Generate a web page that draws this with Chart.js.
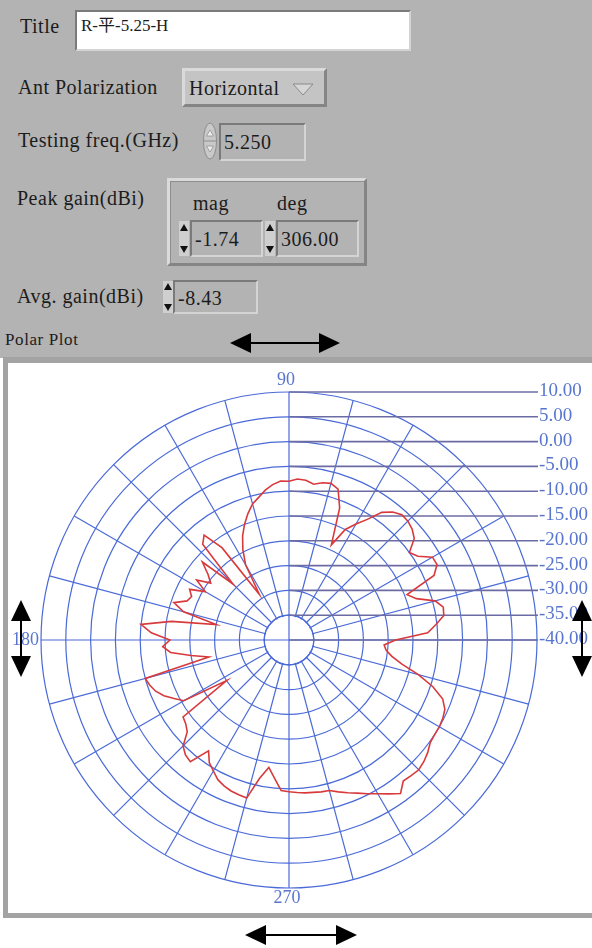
<!DOCTYPE html>
<html>
<head>
<meta charset="utf-8">
<script src="https://cdn.jsdelivr.net/npm/chart.js@4.4.1/dist/chart.umd.min.js"></script>
<style>
  html, body { margin: 0; padding: 0; background: #fff; }
  body { width: 592px; height: 948px; position: relative; overflow: hidden;
         font-family: "Liberation Serif", "Noto Sans CJK SC", serif; color: #1c1c1c; }
  .panel { position: absolute; left: 0; top: 0; width: 592px; height: 358px; background: #b3b3b3; }
  .lbl { position: absolute; font-size: 20px; line-height: 20px; letter-spacing: 0.5px; white-space: nowrap; }
  .inset { position: absolute; box-sizing: border-box;
           border-top: 2px solid #7a7a7a; border-left: 2px solid #7a7a7a;
           border-bottom: 2px solid #d4d4d4; border-right: 2px solid #d4d4d4; }
  .inset .lbl { left: 3px; }
  .raised { position: absolute; box-sizing: border-box;
            border-top: 3px solid #dadada; border-left: 3px solid #dadada;
            border-bottom: 3px solid #858585; border-right: 3px solid #858585; }
  .frame { position: absolute; left: 3px; top: 357px; width: 600px; height: 561px; background: #a3a3a3; }
  .plot { position: absolute; left: 8px; top: 363px; width: 584px; height: 550px; background: #fff; }
  #polar { position: absolute; left: 8px; top: 363px; }
  svg.over { position: absolute; left: 0; top: 0; pointer-events: none; }
</style>
</head>
<body>
<div class="panel">
  <div class="lbl" style="left:20px; top:16px;">Title</div>
  <div class="inset" style="left:75px; top:10px; width:336px; height:41px; background:#fff;">
    <div class="lbl" style="left:4px; top:4px; font-size:17px; letter-spacing:0;">R-平-5.25-H</div>
  </div>

  <div class="lbl" style="left:18px; top:77px;">Ant Polarization</div>
  <div class="raised" style="left:182px; top:68px; width:145px; height:39px; background:#c4c4c4;">
    <div class="lbl" style="left:4px; top:7px;">Horizontal</div>
  </div>

  <div class="lbl" style="left:18px; top:130px;">Testing freq.(GHz)</div>
  <div class="inset" style="left:219px; top:123px; width:87px; height:38px;">
    <div class="lbl" style="top:7px;">5.250</div>
  </div>

  <div class="lbl" style="left:17px; top:188px;">Peak gain(dBi)</div>
  <div class="raised" style="left:167px; top:178px; width:200px; height:88px; box-shadow: inset 1px 1px 0 #8e8e8e;">
    <div class="lbl" style="left:23px; top:12px;">mag</div>
    <div class="lbl" style="left:107px; top:12px;">deg</div>
  </div>
  <div class="inset" style="left:190px; top:220px; width:73px; height:37px;">
    <div class="lbl" style="top:7px;">-1.74</div>
  </div>
  <div class="inset" style="left:276px; top:220px; width:83px; height:37px;">
    <div class="lbl" style="top:7px;">306.00</div>
  </div>

  <div class="lbl" style="left:17px; top:286px;">Avg. gain(dBi)</div>
  <div class="inset" style="left:173px; top:280px; width:85px; height:34px;">
    <div class="lbl" style="top:6px;">-8.43</div>
  </div>

  <div class="lbl" style="left:5px; top:330px; font-size:17px; letter-spacing:0.6px;">Polar Plot</div>
</div>

<div class="frame"></div>
<div class="plot"></div>
<canvas id="polar" width="584" height="550"></canvas>

<svg class="over" width="592" height="948">
  <!-- dropdown arrow -->
  <path d="M293 84 L313 84 L303 95 Z" fill="#d6d6d6" stroke="#8a8a8a" stroke-width="1"/>
  <!-- frequency spinner -->
  <ellipse cx="210" cy="141" rx="6.5" ry="18" fill="#c9c9c9" stroke="#8c8c8c"/>
  <line x1="204" y1="141" x2="216" y2="141" stroke="#8c8c8c"/>
  <path d="M206.5 136 L213.5 136 L210 130 Z" fill="#eeeeee" stroke="#909090" stroke-width="0.8"/>
  <path d="M206.5 146 L213.5 146 L210 152 Z" fill="#eeeeee" stroke="#909090" stroke-width="0.8"/>
  <!-- small spinners -->
  <g fill="#111">
    <rect x="179" y="221" width="10" height="35" fill="#cfcfcf"/>
    <path d="M180 231 L188 231 L184 224 Z"/><path d="M180 246 L188 246 L184 253 Z"/>
    <rect x="265" y="221" width="10" height="35" fill="#cfcfcf"/>
    <path d="M266 231 L274 231 L270 224 Z"/><path d="M266 246 L274 246 L270 253 Z"/>
    <rect x="163" y="281" width="10" height="32" fill="#cfcfcf"/>
    <path d="M164 290 L172 290 L168 283 Z"/><path d="M164 304 L172 304 L168 311 Z"/>
  </g>
  <!-- black double arrows -->
  <g stroke="#000" stroke-width="2" fill="#000">
    <line x1="245" y1="343" x2="325" y2="343"/>
    <path d="M230 343 L251 333 L251 353 Z" stroke="none"/>
    <path d="M340 343 L319 333 L319 353 Z" stroke="none"/>

    <line x1="260" y1="935" x2="342" y2="935"/>
    <path d="M245 935 L266 925 L266 945 Z" stroke="none"/>
    <path d="M357 935 L336 925 L336 945 Z" stroke="none"/>

    <line x1="21" y1="615" x2="21" y2="662"/>
    <path d="M21 600 L11 621 L31 621 Z" stroke="none"/>
    <path d="M21 677 L11 656 L31 656 Z" stroke="none"/>

    <line x1="582" y1="615" x2="582" y2="662"/>
    <path d="M582 600 L572 621 L592 621 Z" stroke="none"/>
    <path d="M582 677 L572 656 L592 656 Z" stroke="none"/>
  </g>
</svg>

<script>
// ----------------------------------------
// Data: antenna gain (dBi) every 3 degrees, counter-clockwise from 0
// ----------------------------------------
const angleDeg = Array.from({ length: 120 }, (_, i) => i * 3);
const gainDb = [
    -18.5, -12, -10.2, -8.4, -8.2, -9.5, -13, -14.5, -8, -6.5,        // 0 - 27
    -6.6, -9, -10, -7.5, -6.6, -6.1, -6, -6.8, -8.2, -11,             // 30 - 57
    -13, -15, -19, -11.5, -8, -7.3, -7.6, -8.2, -7.6, -7.5,           // 60 - 87
    -8, -7.9, -8.5, -9.4, -10.6, -11.6, -13.2, -15, -17, -19.5,       // 90 - 117
    -22.5, -29, -17, -12.8, -14, -24, -16.5, -19, -20.5, -17.8,       // 120 - 147
    -20.5, -17.5, -18.5, -18, -15.6, -18, -25, -16, -10, -12.2,       // 150 - 177
    -16, -14.5, -16, -20, -23.5, -10, -10.5, -11.2, -12.4, -14,       // 180 - 207
    -15.5, -25, -13.6, -13.2, -12.4, -9.8, -8.8, -8.4, -12.4, -10.5,  // 210 - 237
    -9.5, -8.4, -7.8, -7.4, -7.2, -7, -11.5, -14, -12, -9.6,          // 240 - 267
    -9.4, -9.2, -9, -8.9, -8.7, -8.6, -7.8, -7, -6.2, -5.2,           // 270 - 297
    -4.2, -3, -1.74, -3.4, -3.2, -3, -3.4, -4, -4.8, -5,              // 300 - 327
    -5, -5.2, -5.6, -6.8, -9.5, -13, -16.8, -19, -20.3, -20.8         // 330 - 357
];
const gainTicks = [10, 5, 0, -5, -10, -15, -20, -25, -30, -35, -40];
const axisLabels = [90, 180, 270];

const gridBlue = "#4a6ad8";
const levelLine = "#6c6ca4";
const labelBlue = "#5876cf";

// radar goes clockwise from the top, so feed it the angles in reverse
const order = angleDeg.map((_, j) => (angleDeg.length - j) % angleDeg.length);
const chartLabels = order.map((k) => angleDeg[k]);
const chartValues = order.map((k) => gainDb[k]);

// ----------------------------------------
// Level lines, right-hand labels and 90/180/270 marks
// ----------------------------------------
const polarDecor = {
    id: "polarDecor",
    beforeDatasetsDraw(chart) {
        const r = chart.scales.r;
        const ctx = chart.ctx;
        const cx = r.xCenter;
        const cy = r.yCenter;
        const inner = r.getDistanceFromCenterForValue(-35);

        ctx.save();
        // spokes stop at the innermost ring, only the two axes cross it
        ctx.fillStyle = "#fff";
        ctx.beginPath();
        ctx.arc(cx, cy, inner - 1, 0, Math.PI * 2);
        ctx.fill();
        ctx.strokeStyle = gridBlue;
        ctx.lineWidth = 1.2;
        ctx.beginPath();
        ctx.arc(cx, cy, inner, 0, Math.PI * 2);
        ctx.moveTo(cx - inner, cy);
        ctx.lineTo(cx + inner, cy);
        ctx.moveTo(cx, cy - inner);
        ctx.lineTo(cx, cy + inner);
        ctx.stroke();

        const labelX = cx + 249;
        ctx.font = '19px "Liberation Serif"';
        ctx.textBaseline = "middle";
        ctx.textAlign = "left";
        gainTicks.forEach((v) => {
            const y = cy - r.getDistanceFromCenterForValue(v);
            ctx.strokeStyle = levelLine;
            ctx.lineWidth = 1.6;
            ctx.beginPath();
            ctx.moveTo(cx, y);
            ctx.lineTo(labelX, y);
            ctx.stroke();
            ctx.fillStyle = labelBlue;
            ctx.fillText(v.toFixed(2), labelX + 1, y - 1);
        });

        ctx.font = '18px "Liberation Serif"';
        axisLabels.forEach((a) => {
            const p = r.getPointPosition(chartLabels.indexOf(a), r.drawingArea);
            if (a === 90) {
                ctx.textAlign = "center";
                ctx.fillText(String(a), p.x - 3, p.y - 12);
            } else if (a === 270) {
                ctx.textAlign = "center";
                ctx.fillText(String(a), p.x - 2, p.y + 10);
            } else {
                ctx.textAlign = "right";
                ctx.fillText(String(a), p.x - 2, p.y);
            }
        });
        ctx.restore();
    }
};

new Chart(document.getElementById("polar"), {
    type: "radar",
    data: {
        labels: chartLabels,
        datasets: [
            {
                data: chartValues,
                borderColor: "#d83a3c",
                borderWidth: 1.6,
                pointRadius: 0,
                fill: false,
                tension: 0
            }
        ]
    },
    options: {
        responsive: false,
        animation: false,
        layout: { padding: { left: 33, top: 29, right: 55, bottom: 25 } },
        plugins: { legend: { display: false }, tooltip: { enabled: false } },
        scales: {
            r: {
                min: -40,
                max: 10,
                startAngle: 90,
                ticks: { display: false, stepSize: 5 },
                pointLabels: { display: false },
                grid: { circular: true, color: gridBlue, lineWidth: 1.2 },
                angleLines: {
                    color: gridBlue,
                    lineWidth: (c) => (chartLabels[c.index] % 15 === 0 ? 1.2 : 0)
                }
            }
        }
    },
    plugins: [polarDecor]
});
</script>
</body>
</html>
